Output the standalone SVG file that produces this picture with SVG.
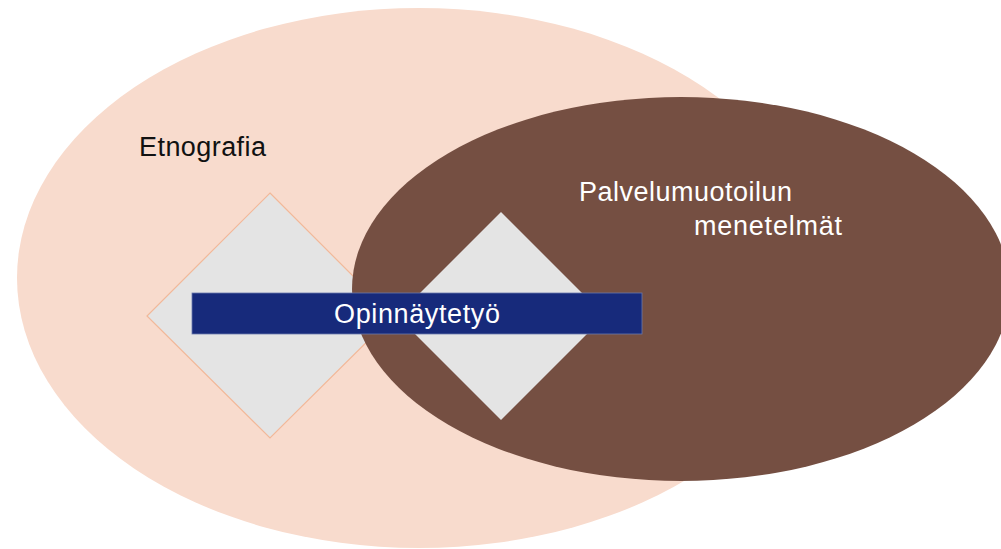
<svg xmlns="http://www.w3.org/2000/svg" width="1001" height="549" viewBox="0 0 1001 549">
  <style>
    .lbl { font-family: "Liberation Sans", Arial, sans-serif; font-size: 27px; }
    .dark { fill: #111111; }
    .light { fill: #ffffff; }
    .diamond { fill: #e4e4e4; }
  </style>
  <rect width="1001" height="549" fill="#ffffff"/>

  <!-- Ethnography field -->
  <g id="etnografia">
    <ellipse cx="419" cy="278" rx="402" ry="270" fill="#f8dbcd"/>
    <text class="lbl dark" x="139" y="156" textLength="127" lengthAdjust="spacing">Etnografia</text>
  </g>

  <!-- Left diamond, partly under the service-design ellipse -->
  <g id="diamond-left">
    <polygon class="diamond" points="270,193 393,316 270,438 147,316" stroke="#f2b899" stroke-width="1.2"/>
  </g>

  <!-- Service design methods field -->
  <g id="palvelumuotoilu">
    <ellipse cx="681" cy="289" rx="329" ry="192" fill="#754f42"/>
    <text class="lbl light" x="579" y="201" textLength="213" lengthAdjust="spacing">Palvelumuotoilun</text>
    <text class="lbl light" x="694" y="235" textLength="148" lengthAdjust="spacing">menetelmät</text>
  </g>

  <!-- Right diamond -->
  <g id="diamond-right">
    <polygon class="diamond" points="501,212 605,316 501,420 397,316"/>
  </g>

  <!-- Thesis bar across both fields -->
  <g id="opinnaytetyo">
    <rect x="192" y="293" width="450" height="41" fill="#172a7b" stroke="#6a78ad" stroke-width="0.8"/>
    <text class="lbl light" x="334" y="323" textLength="166" lengthAdjust="spacing">Opinnäytetyö</text>
  </g>

  <g id="connectors"/>
</svg>
